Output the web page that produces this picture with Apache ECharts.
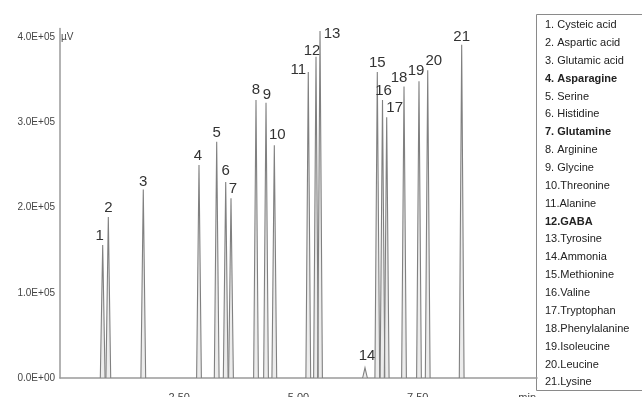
<!DOCTYPE html>
<html>
<head>
<meta charset="utf-8">
<script src="https://cdn.jsdelivr.net/npm/echarts@6/dist/echarts.min.js"></script>
<style>html,body{margin:0;padding:0;background:#fff;}#c{width:642px;height:397px;}</style>
</head>
<body>
<div id="c"></div>
<script>
// Peak data
const peakLabels = ['1','2','3','4','5','6','7','8','9','10','11','12','13','14','15','16','17','18','19','20','21'];
const peakTimes = [0.895,1.013,1.746,2.914,3.285,3.474,3.585,4.109,4.319,4.493,5.205,5.367,5.451,6.394,6.652,6.761,6.849,7.212,7.526,7.709,8.421];
const peakHeights = [1.56e5,1.89e5,2.21e5,2.50e5,2.77e5,2.30e5,2.11e5,3.26e5,3.23e5,2.73e5,3.59e5,3.77e5,4.07e5,0.12e5,3.59e5,3.26e5,3.06e5,3.42e5,3.48e5,3.61e5,3.91e5];
const legendNames = ['1. Cysteic acid','2. Aspartic acid','3. Glutamic acid','4. Asparagine','5. Serine','6. Histidine','7. Glutamine','8. Arginine','9. Glycine','10.Threonine','11.Alanine','12.GABA','13.Tyrosine','14.Ammonia','15.Methionine','16.Valine','17.Tryptophan','18.Phenylalanine','19.Isoleucine','20.Leucine','21.Lysine'];
const boldNames = ['4. Asparagine','7. Glutamine','12.GABA'];
const xTickLabels = {2.5:'2.50',5:'5.00',7.5:'7.50'};
const yTickLabels = {0:'0.0E+00',100000:'1.0E+05',200000:'2.0E+05',300000:'3.0E+05',400000:'4.0E+05'};

// label offsets (style only, pixels)
const labelOffsets = [[-3,-9],[0,-9],[0,-8],[-1,-9],[0,-9],[0,-11],[2,-9],[0,-10],[1,-8],[3,-10],[-10,-2],[-4,-6],[12,3],[2,-12],[0,-9],[1,-9],[8,-9],[-5,-9],[-3,-10],[6,-9],[0,-8]];
const halfWidth = 0.05;

const peakData = peakTimes.map((t,i)=>[t, peakHeights[i], i]);

const chart = echarts.init(document.getElementById('c'), null, {renderer:'canvas'});

const legendChildren = [{
  type:'rect', shape:{x:536.5,y:14.5,width:110,height:376}, style:{fill:'#fff',stroke:'#8a8a8a',lineWidth:1}
}];
legendNames.forEach((n,i)=>{
  legendChildren.push({type:'text', x:545, y:25+i*17.87, style:{text:n, fill:'#222', font:(boldNames.includes(n)?'bold ':'')+'11px "Liberation Sans", Arial, sans-serif', verticalAlign:'middle'}});
});
legendChildren.push({type:'text', x:61, y:37, style:{text:'µV', fill:'#444', font:'10px "Liberation Sans", Arial, sans-serif', verticalAlign:'middle'}});
legendChildren.push({type:'text', x:536, y:392, style:{text:'min', fill:'#444', font:'11px "Liberation Sans", Arial, sans-serif', align:'right', verticalAlign:'top'}});

chart.setOption({
  animation:false,
  backgroundColor:'#fff',
  grid:{left:60, right:105, top:28.5, bottom:19, containLabel:false, outerBoundsMode:'none'},
  xAxis:{
    type:'value', min:0, max:10, interval:2.5,
    axisLine:{show:true, lineStyle:{color:'#9a9a9a', width:1.5}},
    axisTick:{show:false},
    splitLine:{show:false},
    axisLabel:{margin:14, fontSize:11, color:'#444', fontFamily:'Liberation Sans', verticalAlign:'top', formatter:v=>xTickLabels[v]||''}
  },
  yAxis:{
    type:'value', min:0, max:410000, interval:100000,
    axisLine:{show:true, lineStyle:{color:'#9a9a9a', width:1.5}},
    axisTick:{show:false},
    splitLine:{show:false},
    axisLabel:{margin:5, fontSize:10, color:'#444', fontFamily:'Liberation Sans', formatter:v=>yTickLabels[v]||''}
  },
  graphic:legendChildren,
  series:[{
    type:'custom',
    coordinateSystem:'cartesian2d',
    data:peakData,
    clip:false,
    renderItem:function(params, api){
      const t = api.value(0), h = api.value(1), i = api.value(2);
      const p0 = api.coord([t-halfWidth,0]);
      const p1 = api.coord([t,h]);
      const p2 = api.coord([t+halfWidth,0]);
      const off = labelOffsets[i];
      return {type:'group', children:[
        {type:'polyline', shape:{points:[p0,p1,p2]}, style:{stroke:'#808080', lineWidth:1.1, fill:'rgba(200,200,200,0.35)'}},
        {type:'text', x:p1[0]+off[0], y:p1[1]+off[1], style:{text:peakLabels[i], fill:'#333', font:'15px "Liberation Sans", Arial, sans-serif', align:'center', verticalAlign:'middle'}}
      ]};
    }
  }]
});
</script>
</body>
</html>
